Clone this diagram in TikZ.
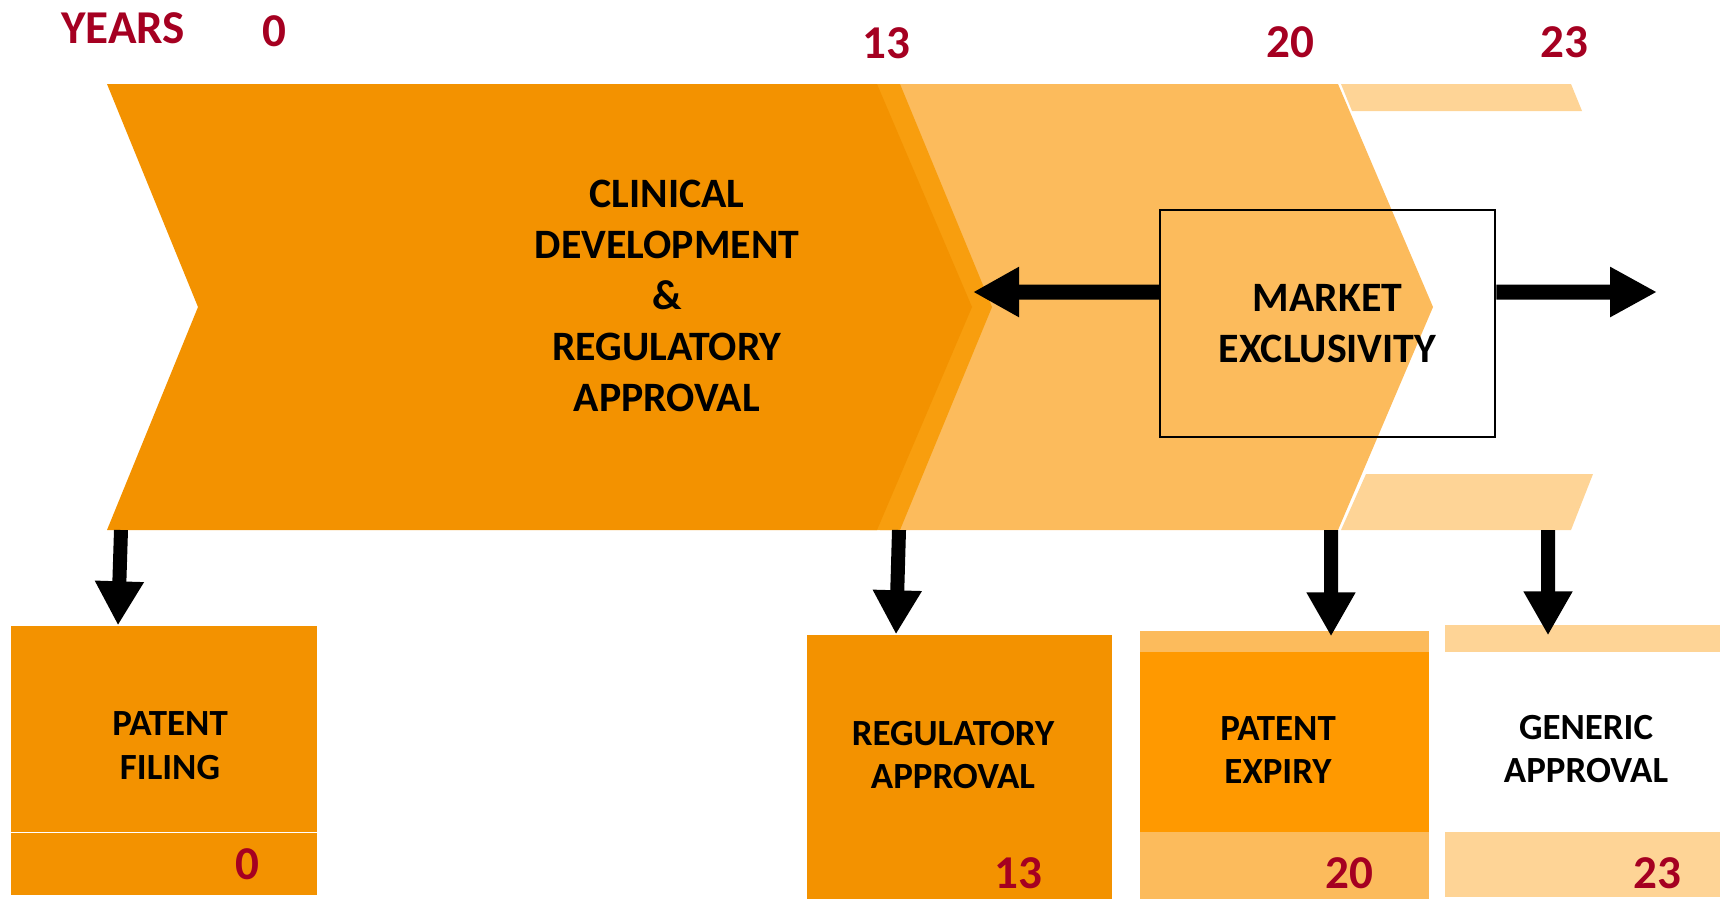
\documentclass[tikz,border=0pt]{standalone}
\usepackage{fontspec}
\setmainfont{Carlito}
\usetikzlibrary{arrows.meta, positioning, calc}
\definecolor{phaseorange}{RGB}{243,146,0}
\definecolor{edgeorange}{RGB}{248,158,14}
\definecolor{marketorange}{RGB}{252,187,92}
\definecolor{genericorange}{RGB}{254,212,150}
\definecolor{expiryorange}{RGB}{255,153,0}
\definecolor{yearred}{RGB}{165,0,33}
\tikzset{
  phasetext/.style={
    font=\fontsize{11.9}{14.5}\selectfont\bfseries, align=center, text=black
  },
  eventtext/.style={
    font=\fontsize{10.5}{12.5}\selectfont\bfseries, align=center, text=black
  },
  yeartext/.style={
    font=\fontsize{13.4}{15}\selectfont\bfseries, text=yearred
  },
  eventbox/.style={
    rectangle, inner sep=0pt, draw=none
  },
  bigarrow/.style={
    -{Triangle[width=4.6mm,length=4.4mm]}, line width=1.4mm, black
  }
}

\begin{document}
\begin{tikzpicture}[x=0.1mm, y=-0.1mm]
    \useasboundingbox (0,0) rectangle (1720,899);

    % Year scale
    \node[yeartext] (years) at (123,28) {YEARS};
    \node[yeartext] (y0) at (274,31) {0};
    \node[yeartext] (y13) at (886,43) {13};
    \node[yeartext] (y20) at (1290,42) {20};
    \node[yeartext] (y23) at (1564,42) {23};

    % Market chevron (behind)
    \fill[marketorange] (880,84) -- (1338,84) -- (1433,307) -- (1338,530) -- (880,530) -- cycle;
    % Generic strips
    \fill[genericorange] (1341,84) -- (1571,84) -- (1582,111) -- (1352,111) -- cycle;
    \fill[genericorange] (1366,474) -- (1593,474) -- (1571,530) -- (1341,530) -- cycle;
    % Development chevron with its edge
    \fill[edgeorange] (860,84) -- (900,84) -- (992,307) -- (900,530) -- (860,530) -- cycle;
    \fill[phaseorange] (107,84) -- (877,84) -- (972,307) -- (877,530) -- (107,530) -- (198,307) -- cycle;

    \node[phasetext] (clinical) at (667,296)
      {CLINICAL\\DEVELOPMENT\\\&\\REGULATORY\\APPROVAL};

    % Market exclusivity box
    \node[draw, line width=0.25mm, minimum width=33.5mm, minimum height=22.7mm,
      inner sep=0pt, phasetext] (excl) at (1327.5,323.5) {MARKET\\EXCLUSIVITY};
    \coordinate (exclL) at ([yshift=3.15mm]excl.west);
    \coordinate (exclR) at ([yshift=3.15mm]excl.east);
    \coordinate (devtip) at (973,292);
    \coordinate (outtip) at (1657,292);
    \draw[bigarrow, line width=1.5mm, -{Triangle[width=4.7mm,length=4.6mm]}] (exclL) -- (devtip);
    \draw[bigarrow, line width=1.5mm, -{Triangle[width=4.7mm,length=4.7mm]}] (exclR) -- (outtip);

    % Milestone boxes
    \node[eventbox, fill=phaseorange, minimum width=30.6mm, minimum height=20.6mm] (filing) at (164,729) {};
    \node[eventbox, fill=phaseorange, minimum width=30.6mm, minimum height=6.2mm] (filingyr) at (164,864) {};
    \node[eventbox, fill=phaseorange, minimum width=30.5mm, minimum height=26.4mm] (regappr) at (959.5,767) {};
    \node[eventbox, fill=marketorange, minimum width=28.9mm, minimum height=26.8mm] (expiry) at (1284.5,765) {};
    \node[eventbox, fill=expiryorange, minimum width=28.9mm, minimum height=18mm] (expirymid) at (1284.5,742) {};
    \node[eventbox, fill=genericorange, minimum width=27.5mm, minimum height=2.7mm] (generictop) at (1582.5,638.5) {};
    \node[eventbox, fill=genericorange, minimum width=27.5mm, minimum height=6.5mm] (genericyr) at (1582.5,864.5) {};

    \node[eventtext] (filingtxt) at (170,746) {PATENT\\FILING};
    \node[yeartext] (filing0) at (247,864) {0};
    \node[eventtext] (regtxt) at (953,755) {REGULATORY\\APPROVAL};
    \node[yeartext] (reg13) at (1018,873) {13};
    \node[eventtext] (expirytxt) at (1278,750) {PATENT\\EXPIRY};
    \node[yeartext] (expiry20) at (1349,873) {20};
    \node[eventtext] (generictxt) at (1586,749) {GENERIC\\APPROVAL};
    \node[yeartext] (generic23) at (1657,873) {23};

    % Arrows down to milestones
    \coordinate (d0) at (121,530);
    \coordinate (d13) at (899,530);
    \coordinate (d20) at (1331,530);
    \coordinate (d23) at (1548,530);
    \draw[bigarrow] (d0) -- ([xshift=-4.6mm]filing.north);
    \draw[bigarrow] (d13) -- ([xshift=-6.35mm]regappr.north);
    \draw[bigarrow] (d20) -- ([xshift=4.65mm, yshift=-0.6mm]expiry.north);
    \draw[bigarrow] (d23) -- ([xshift=-3.45mm, yshift=-1.1mm]generictop.north);
\end{tikzpicture}
\end{document}
